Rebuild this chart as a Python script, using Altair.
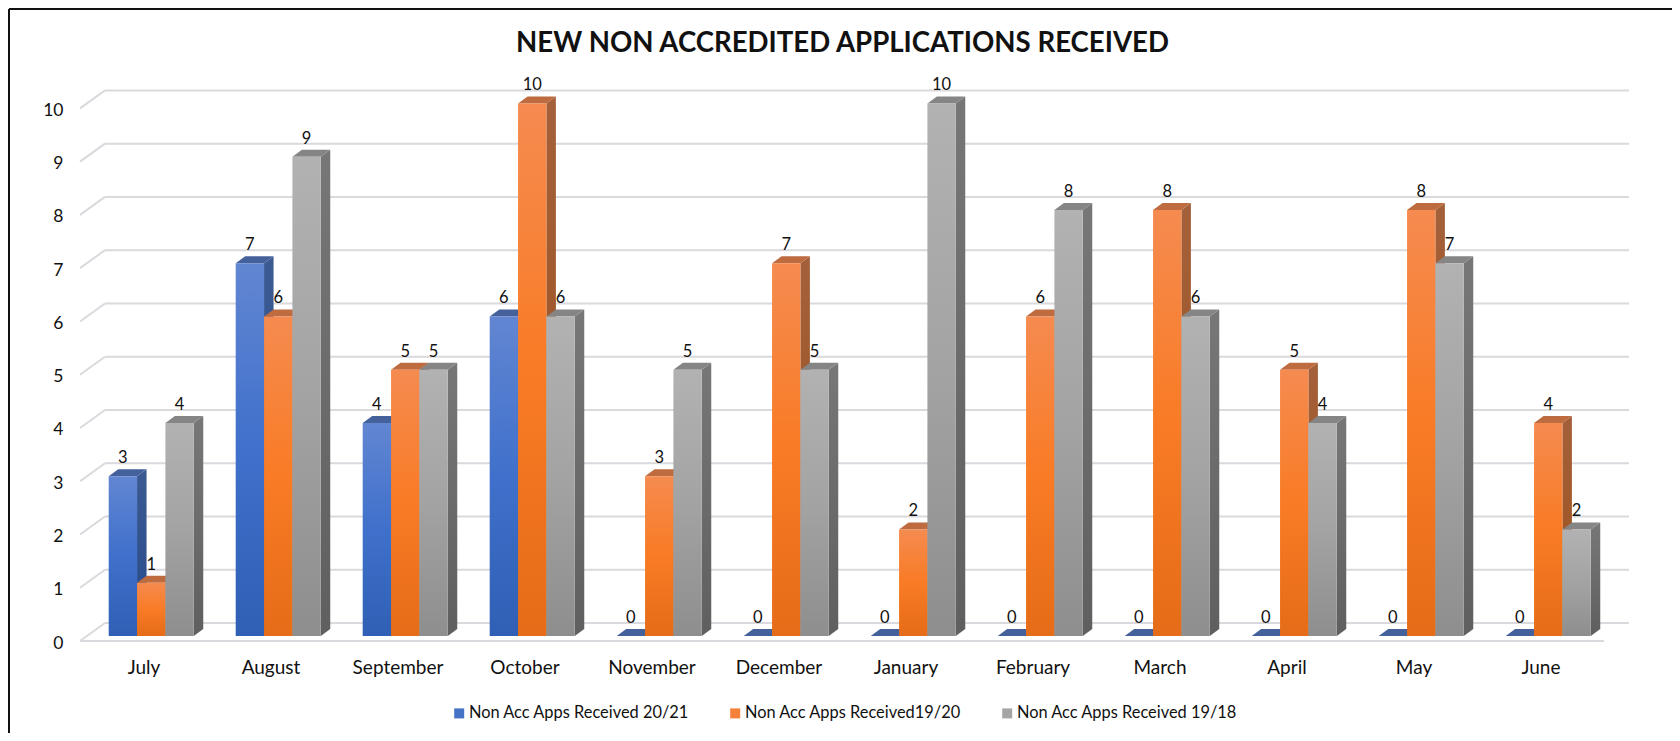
import altair as alt
import pandas as pd

months = ["July", "August", "September", "October", "November", "December",
          "January", "February", "March", "April", "May", "June"]
apps_2021 = [3, 7, 4, 6, 0, 0, 0, 0, 0, 0, 0, 0]
apps_1920 = [1, 6, 5, 10, 3, 7, 2, 6, 8, 5, 8, 4]
apps_1918 = [4, 9, 5, 6, 5, 5, 10, 8, 6, 4, 7, 2]
series_names = ["Non Acc Apps Received 20/21", "Non Acc Apps Received19/20", "Non Acc Apps Received 19/18"]
series_values = [apps_2021, apps_1920, apps_1918]
legend_colors = ["#4472c4", "#f5803a", "#a5a5a5"]
front_stops = [["#6286d2", "#3f70cb", "#2f60b5"], ["#f58b50", "#f97b25", "#e56c18"], ["#b2b2b2", "#a3a3a3", "#8e8e8e"]]
side_stops = [["#3c5a92", "#264a8c"], ["#a4603a", "#9c5018"], ["#777777", "#5f5f5f"]]
top_colors = ["#44619b", "#bd6b3f", "#858585"]

FONT = "Lato"
W, H = 1549, 570
BAND, UNIT = 127.0, 53.26
x_scale = alt.Scale(domain=[0, W / BAND], range=[0, W], nice=False, zero=False)
y_scale = alt.Scale(domain=[0, H / UNIT], range=[H, 0], nice=False, zero=False)

BAR_W = 28.35 / BAND
BAR_START = 28.7 / BAND
DX, DY = 9.5 / BAND, 7.0 / UNIT
BASE = 5.0 / UNIT
WALL_X, WALL_Y = 25.0 / BAND, 18.0 / UNIT
LABEL_UP = 18.0 / UNIT
TICKS = list(range(11))

label_expr = "[" + ",".join(f"'{m}'" for m in months) + "][floor(datum.value)]"
x_axis = alt.Axis(values=[i + 0.5 for i in range(12)], labelExpr=label_expr, domain=False, ticks=False, grid=False,
                  labelFont=FONT, labelFontSize=19, labelColor="#111111", labelPadding=17, labelOverlap=False,
                  labelAlign="center", title=None)
y_axis = alt.Axis(values=TICKS, format="d", domain=False, ticks=False, grid=False,
                  labelFont=FONT, labelFontSize=17.5, labelColor="#111111", labelPadding=17,
                  labelBaseline="middle", labelOffset=2, title=None)


def grad(colors):
    n = len(colors) - 1
    return alt.LinearGradient(
        gradient="linear", x1=0, x2=0, y1=0, y2=1,
        stops=[alt.GradientStop(offset=i / n, color=c) for i, c in enumerate(colors)],
    )


X = lambda: alt.X("x:Q", scale=x_scale, axis=x_axis)
Y = lambda: alt.Y("y:Q", scale=y_scale, axis=y_axis)

layers = []

# back wall gridlines, their diagonal return to the front, and the floor edge
grid = pd.DataFrame({"x": [WALL_X] * 11, "x2": [12 + WALL_X] * 11, "y": [t + WALL_Y for t in TICKS]})
layers.append(alt.Chart(grid).mark_rule(color="#d9d9de", strokeWidth=2).encode(x=X(), x2="x2:Q", y=Y()))
diag = pd.DataFrame([{"t": t, "x": dx, "y": t + dy} for t in TICKS for dx, dy in [(0, 0), (WALL_X, WALL_Y)]])
layers.append(alt.Chart(diag).mark_line(color="#d9d9de", strokeWidth=2).encode(x=X(), y=Y(), detail="t:N"))
floor = pd.DataFrame({"x": [0.0], "x2": [12.0], "y": [0.0]})
layers.append(alt.Chart(floor).mark_rule(color="#d9d9de", strokeWidth=2).encode(x=X(), x2="x2:Q", y=Y()))

labels = []
for s, vals in enumerate(series_values):
    side, top, front = [], [], []
    for i, v in enumerate(vals):
        xl = i + BAR_START + s * BAR_W
        xr = xl + BAR_W
        yb = v + BASE
        front.append({"x": xl, "x2": xr, "y": yb, "y2": BASE})
        side += [
            {"b": i, "x": xr, "y": yb, "y2": BASE},
            {"b": i, "x": xr + DX, "y": yb + DY, "y2": BASE + DY},
        ]
        top += [
            {"b": i, "x": xl, "y": yb, "y2": yb},
            {"b": i, "x": xl + DX, "y": yb + DY, "y2": yb},
            {"b": i, "x": xr, "y": yb + DY, "y2": yb},
            {"b": i, "x": xr + DX, "y": yb + DY, "y2": yb + DY},
        ]
        labels.append({"x": (xl + xr) / 2, "y": yb + LABEL_UP, "v": str(v)})
    side_df = pd.DataFrame(side)
    side_df = side_df[side_df["y"] > side_df["y2"]]
    layers.append(alt.Chart(side_df).mark_area(orient="vertical", fill=grad(side_stops[s]))
                  .encode(x=X(), y=Y(), y2="y2:Q", detail="b:N"))
    layers.append(alt.Chart(pd.DataFrame(top)).mark_area(orient="vertical", fill=top_colors[s])
                  .encode(x=X(), y=Y(), y2="y2:Q", detail="b:N"))
    front_df = pd.DataFrame(front)
    front_df = front_df[front_df["y"] > front_df["y2"]]
    layers.append(alt.Chart(front_df).mark_rect(fill=grad(front_stops[s]))
                  .encode(x=X(), x2="x2:Q", y=Y(), y2="y2:Q"))

layers.append(alt.Chart(pd.DataFrame(labels)).mark_text(font=FONT, fontSize=16.5, color="#111111", baseline="middle")
              .encode(x=X(), y=Y(), text="v:N"))

# legend
legend_df = pd.DataFrame({"name": series_names, "x": [0.0] * 3, "y": [0.0] * 3})
layers.append(alt.Chart(legend_df).mark_square(opacity=0).encode(
    x=X(), y=Y(),
    color=alt.Color("name:N", scale=alt.Scale(domain=series_names, range=legend_colors), title=None,
                    legend=alt.Legend(orient="none", legendX=371, legendY=634, direction="horizontal",
                                      symbolType="square", symbolSize=100, symbolOpacity=1, symbolStrokeWidth=0,
                                      labelFont=FONT, labelFontSize=16.4, labelColor="#111111", labelLimit=400,
                                      columnPadding=37, labelOffset=1.5, title=None)),
))

# outer frame: top and left edges only, as in the reference
layers.append(alt.Chart(floor).mark_rule(color="#111111", strokeWidth=2).encode(
    x=alt.value(-71), x2=alt.value(W + 43), y=alt.value(-62)))
layers.append(alt.Chart(floor).mark_rule(color="#111111", strokeWidth=2).encode(
    x=alt.value(-71), y=alt.value(-62), y2=alt.value(H + 92)))

chart = alt.layer(*layers).properties(
    width=W, height=H,
    title=alt.TitleParams("NEW NON ACCREDITED APPLICATIONS RECEIVED", font=FONT, fontSize=27.6, fontWeight="bold",
                          color="#111111", anchor="middle", dx=-12, offset=-50),
    padding={"left": 72, "top": 63, "right": 43, "bottom": 92},
    autosize=alt.AutoSizeParams(type="none"),
    background="white",
).configure_view(stroke=None)

chart.save("out.html", embed_options={"renderer": "svg", "actions": False})
